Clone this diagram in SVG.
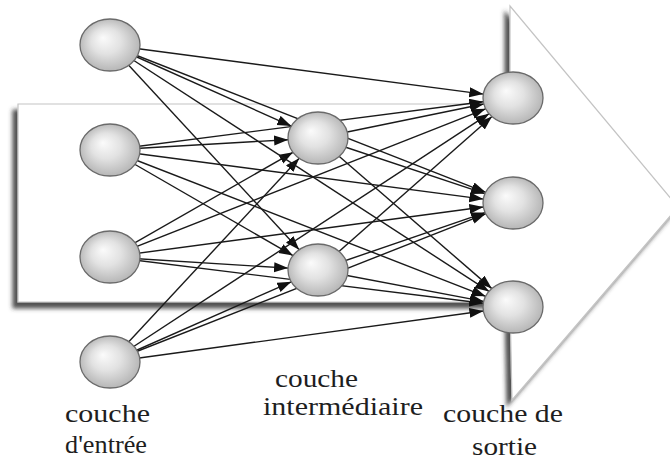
<svg xmlns="http://www.w3.org/2000/svg" width="670" height="461" viewBox="0 0 670 461">
<defs>
  <style>
    .lbl { font-family: 'Liberation Serif', 'Times New Roman', serif; font-size: 25px; fill: #1e1e1e; }
    .node { fill: url(#sphere); stroke: #6a6a6a; stroke-width: 1.3; }
    .edge { stroke: #1a1a1a; stroke-width: 1.4; fill: none; marker-end: url(#arr); }
  </style>
  <radialGradient id="sphere" cx="0.5" cy="0.5" r="0.55" fx="0.38" fy="0.36">
    <stop offset="0" stop-color="#fbfbfb"/>
    <stop offset="0.45" stop-color="#e2e2e2"/>
    <stop offset="1" stop-color="#b0b0b0"/>
  </radialGradient>
  <marker id="arr" markerUnits="userSpaceOnUse" markerWidth="15" markerHeight="11" refX="14" refY="5" orient="auto">
    <path d="M0,0 L14,5 L0,10 Z" fill="#111"/>
  </marker>
  <filter id="shadow" x="-5%" y="-5%" width="110%" height="115%">
    <feGaussianBlur in="SourceAlpha" stdDeviation="2.2" result="b"/>
    <feOffset in="b" dx="-5" dy="6" result="o"/>
    <feFlood flood-color="#333" flood-opacity="0.85"/>
    <feComposite in2="o" operator="in" result="s"/>
    <feMerge><feMergeNode in="s"/><feMergeNode in="SourceGraphic"/></feMerge>
  </filter>
</defs>
<rect width="670" height="461" fill="#ffffff"/>
<g id="background-arrow">
  <polygon points="18,104 510,104 510,6 678,207 512,400 510,302 18,302" fill="#ffffff" stroke="#c4c4c4" stroke-width="1.2" filter="url(#shadow)"/>
</g>
<g id="connectors">
  <line class="edge" x1="110" y1="45" x2="291.3" y2="126.1"/>
  <line class="edge" x1="110" y1="45" x2="299.2" y2="249.7"/>
  <line class="edge" x1="110" y1="150" x2="288.1" y2="139.7"/>
  <line class="edge" x1="110" y1="150" x2="293" y2="255.6"/>
  <line class="edge" x1="110" y1="257" x2="293" y2="152.3"/>
  <line class="edge" x1="110" y1="257" x2="288.1" y2="268.1"/>
  <line class="edge" x1="110" y1="362" x2="299.2" y2="158.3"/>
  <line class="edge" x1="110" y1="362" x2="291.3" y2="281.8"/>
  <line class="edge" x1="110" y1="45" x2="483.3" y2="94.1"/>
  <line class="edge" x1="110" y1="45" x2="485.7" y2="192.3"/>
  <line class="edge" x1="110" y1="45" x2="489" y2="291.4"/>
  <line class="edge" x1="110" y1="150" x2="483.3" y2="101.8"/>
  <line class="edge" x1="110" y1="150" x2="483.3" y2="199.1"/>
  <line class="edge" x1="110" y1="150" x2="485.6" y2="296.3"/>
  <line class="edge" x1="110" y1="257" x2="485.7" y2="108.8"/>
  <line class="edge" x1="110" y1="257" x2="483.4" y2="207"/>
  <line class="edge" x1="110" y1="257" x2="483.3" y2="303.3"/>
  <line class="edge" x1="110" y1="362" x2="489.1" y2="113.7"/>
  <line class="edge" x1="110" y1="362" x2="485.7" y2="213.8"/>
  <line class="edge" x1="110" y1="362" x2="483.4" y2="311"/>
  <line class="edge" x1="318" y1="138" x2="483.8" y2="104"/>
  <line class="edge" x1="318" y1="138" x2="485" y2="193.7"/>
  <line class="edge" x1="318" y1="138" x2="491.8" y2="288.6"/>
  <line class="edge" x1="318" y1="270" x2="492" y2="116.5"/>
  <line class="edge" x1="318" y1="270" x2="485.1" y2="212.6"/>
  <line class="edge" x1="318" y1="270" x2="483.7" y2="301.4"/>
</g>
<g id="in1"><ellipse class="node" cx="110" cy="45" rx="30" ry="26"/></g>
<g id="in2"><ellipse class="node" cx="110" cy="150" rx="30" ry="26"/></g>
<g id="in3"><ellipse class="node" cx="110" cy="257" rx="30" ry="26"/></g>
<g id="in4"><ellipse class="node" cx="110" cy="362" rx="30" ry="26"/></g>
<g id="hid1"><ellipse class="node" cx="318" cy="138" rx="30" ry="26"/></g>
<g id="hid2"><ellipse class="node" cx="318" cy="270" rx="30" ry="26"/></g>
<g id="out1"><ellipse class="node" cx="513" cy="98" rx="30" ry="26"/></g>
<g id="out2"><ellipse class="node" cx="513" cy="203" rx="30" ry="26"/></g>
<g id="out3"><ellipse class="node" cx="513" cy="307" rx="30" ry="26"/></g>
<g id="labels">
  <text class="lbl" x="65" y="422" textLength="85" lengthAdjust="spacingAndGlyphs">couche</text>
  <text class="lbl" x="65" y="453" textLength="82" lengthAdjust="spacingAndGlyphs">d'entrée</text>
  <text class="lbl" x="275" y="387" textLength="83" lengthAdjust="spacingAndGlyphs">couche</text>
  <text class="lbl" x="263" y="415" textLength="160" lengthAdjust="spacingAndGlyphs">intermédiaire</text>
  <text class="lbl" x="443" y="422" textLength="120" lengthAdjust="spacingAndGlyphs">couche de</text>
  <text class="lbl" x="472" y="455" textLength="65" lengthAdjust="spacingAndGlyphs">sortie</text>
</g>
</svg>
